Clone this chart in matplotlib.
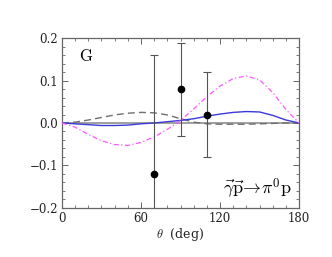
import matplotlib
matplotlib.use("Agg")
import matplotlib.pyplot as plt
from matplotlib.ticker import MultipleLocator

# --- data ---
theta = [0, 10, 20, 30, 40, 50, 60, 70, 80, 90, 100, 110, 120, 130, 140, 150, 160, 170, 180]

sol_magenta = [0.0, -0.010, -0.027, -0.042, -0.051, -0.053, -0.046, -0.033, -0.015, 0.006,
               0.033, 0.062, 0.087, 0.105, 0.111, 0.102, 0.072, 0.032, 0.0]
sol_blue = [0.0, -0.002, -0.004, -0.006, -0.006, -0.005, -0.002, 0.000, 0.003, 0.006,
            0.010, 0.016, 0.021, 0.025, 0.027, 0.026, 0.018, 0.007, 0.0]
sol_dashed = [0.0, 0.002, 0.007, 0.013, 0.019, 0.023, 0.025, 0.024, 0.019, 0.010,
              0.002, -0.002, -0.003, -0.003, -0.003, -0.002, -0.001, 0.000, 0.0]

data_theta = [70, 90, 110]
data_G = [-0.12, 0.08, 0.02]
data_err = [0.28, 0.11, 0.10]

plt.rcParams['font.family'] = ['DejaVu Serif']
plt.rcParams['mathtext.fontset'] = 'cm'

fig = plt.figure(figsize=(3.32, 2.57), dpi=100)
ax = fig.add_axes([0.1867, 0.192, 0.714, 0.659])

ax.axhline(0, color='#a0a0a0', lw=1.4, zorder=1)
ax.plot(theta, sol_dashed, color='#707070', lw=1.0, ls=(0, (5, 3)), zorder=2)
ax.plot(theta, sol_blue, color='#3a3ad8', lw=1.0, zorder=3)
ax.plot(theta, sol_magenta, color='#ff55ff', lw=0.9, ls=(0, (4, 2, 1, 2)), zorder=3)

ax.errorbar(data_theta, data_G, yerr=data_err, fmt='o', color='black', ms=4.5,
            ecolor='#555555', elinewidth=0.8, capsize=3, capthick=0.8, zorder=4)

ax.set_xlim(0, 180)
ax.set_ylim(-0.2, 0.2)
ax.xaxis.set_major_locator(MultipleLocator(60))
ax.xaxis.set_minor_locator(MultipleLocator(10))
ax.yaxis.set_major_locator(MultipleLocator(0.1))
ax.yaxis.set_minor_locator(MultipleLocator(0.02))
ax.yaxis.set_major_formatter(plt.FuncFormatter(lambda v, p: f"{v:.1f}".replace('-', '\u2212')))

ax.tick_params(which='both', direction='in', top=True, right=True, color='#666666',
               labelsize=8.5, labelcolor='#222222', pad=3)
ax.tick_params(which='major', length=4, width=0.7)
ax.tick_params(which='minor', length=2, width=0.6)
for s in ax.spines.values():
    s.set_color('#666666')
    s.set_linewidth(0.9)

ax.set_xlabel(r'$\theta$  (deg)', fontsize=9, labelpad=1, color='#222222')

ax.text(0.07, 0.895, r'$\mathrm{G}$', transform=ax.transAxes, fontsize=12, va='center', ha='left')
ax.text(0.97, 0.11, r'$\vec{\gamma}\vec{\mathrm{p}}\!\rightarrow\!\pi^0\mathrm{p}$',
        transform=ax.transAxes, fontsize=13, va='center', ha='right')

fig.savefig('out.png', dpi=100)
